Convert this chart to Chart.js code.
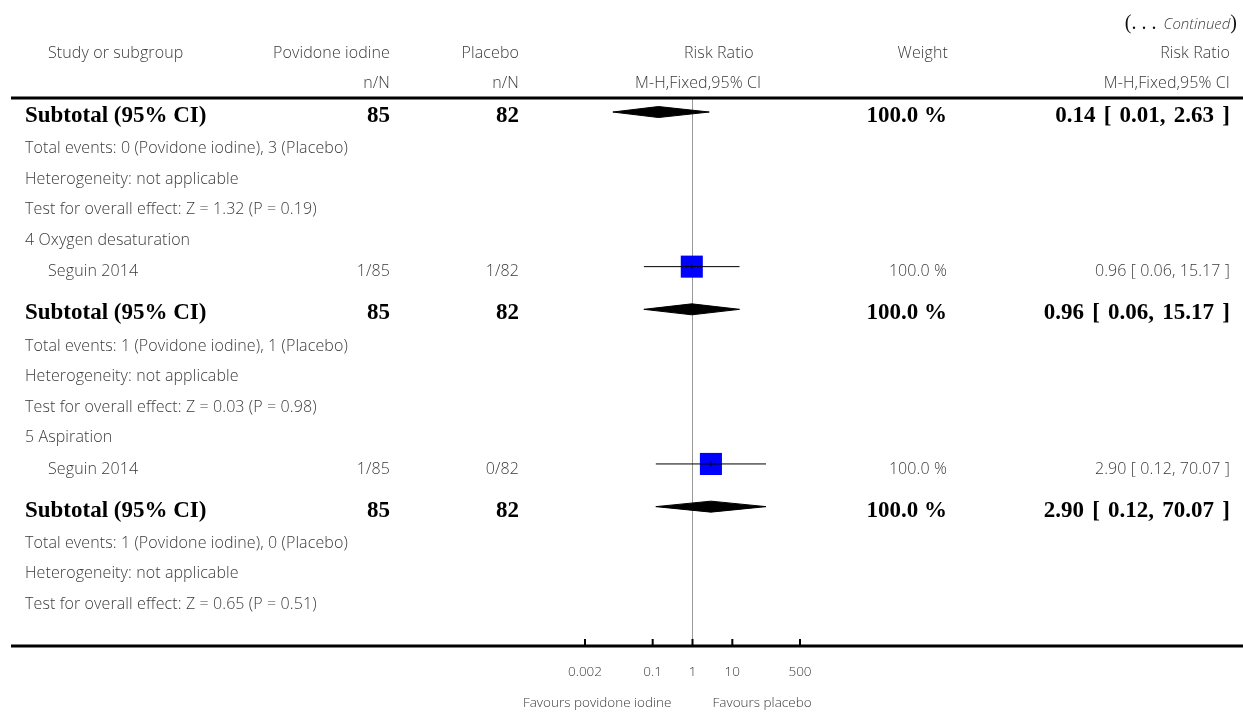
<!DOCTYPE html>
<html>
<head>
<meta charset="utf-8">
<script src="https://cdn.jsdelivr.net/npm/chart.js@4.4.1/dist/chart.umd.min.js"></script>
<style>
  body { margin: 0; background: #fff; }
  canvas { display: block; }
</style>
</head>
<body>
<canvas id="forest" width="1243" height="712"></canvas>
<script>
// values
const subgroups = ['4 Oxygen desaturation', '5 Aspiration'];
const studyNames = ['Seguin 2014', 'Seguin 2014'];
const studyPovidone = ['1/85', '1/85'];
const studyPlacebo = ['1/82', '0/82'];
const studyWeight = ['100.0 %', '100.0 %'];
const studyRR = [0.96, 2.90];
const studyLow = [0.06, 0.12];
const studyHigh = [15.17, 70.07];

const subPovidone = [85, 85, 85];
const subPlacebo = [82, 82, 82];
const subWeight = ['100.0 %', '100.0 %', '100.0 %'];
const subRR = [0.14, 0.96, 2.90];
const subLow = [0.01, 0.06, 0.12];
const subHigh = [2.63, 15.17, 70.07];
const totalEvents = [
    'Total events: 0 (Povidone iodine), 3 (Placebo)',
    'Total events: 1 (Povidone iodine), 1 (Placebo)',
    'Total events: 1 (Povidone iodine), 0 (Placebo)'
];
const heterogeneity = ['Heterogeneity: not applicable', 'Heterogeneity: not applicable', 'Heterogeneity: not applicable'];
const overallEffect = [
    'Test for overall effect: Z = 1.32 (P = 0.19)',
    'Test for overall effect: Z = 0.03 (P = 0.98)',
    'Test for overall effect: Z = 0.65 (P = 0.51)'
];
const xTicks = [0.002, 0.1, 1, 10, 500];
const xTickLabels = ['0.002', '0.1', '1', '10', '500'];

function fmt(v){ return v.toFixed(2) }
function ciText(rr, lo, hi){ return fmt(rr) + ' [ ' + fmt(lo) + ', ' + fmt(hi) + ' ]' }

// build the rows (first block is the tail of a previous subgroup)
let rows = [];
function addSubtotal(i){
    rows.push({type: 'subtotal', i: i});
    rows.push({type: 'note', text: totalEvents[i]});
    rows.push({type: 'note', text: heterogeneity[i]});
    rows.push({type: 'note', text: overallEffect[i]});
}
addSubtotal(0);
for(let g = 0; g < subgroups.length; g++){
    rows.push({type: 'group', text: subgroups[g]});
    rows.push({type: 'study', i: g});
    addSubtotal(g + 1);
}

// row positions in row units (subtotal rows get extra room)
let pos = 0.46;
for(let r = 0; r < rows.length; r++){
    if(r > 0){
        let step = 1;
        if(rows[r].type == 'subtotal') step = 1.4;
        else if(rows[r - 1].type == 'subtotal') step = 1.07;
        pos += step;
    }
    rows[r].y = pos;
}
const yMax = 17.97;

let studyRows = rows.filter(r => r.type == 'study');
let subRows = rows.filter(r => r.type == 'subtotal');

let datasets = [];
datasets.push({
    data: [{x: 1, y: 0}, {x: 1, y: yMax}],
    showLine: true, borderColor: '#999', borderWidth: 1, pointRadius: 0, order: 10
});
datasets.push({
    data: studyRows.map(r => ({x: studyRR[r.i], y: r.y})),
    pointStyle: 'rect', pointRadius: 15.6, backgroundColor: '#0000ff', borderWidth: 0, order: 5
});
datasets.push({
    data: studyRows.map(r => ({x: studyRR[r.i], y: r.y})),
    pointStyle: 'line', rotation: 90, pointRadius: 2.5, borderColor: '#000', borderWidth: 1, order: 1
});
studyRows.forEach(r => {
    datasets.push({
        data: [{x: studyLow[r.i], y: r.y}, {x: studyHigh[r.i], y: r.y}],
        showLine: true, borderColor: '#000', borderWidth: 1, pointRadius: 0, order: 2
    });
});
const dh = 0.18;
subRows.forEach(r => {
    let i = r.i;
    datasets.push({
        data: [
            {x: subLow[i], y: r.y}, {x: subRR[i], y: r.y - dh},
            {x: subHigh[i], y: r.y}, {x: subRR[i], y: r.y + dh},
            {x: subLow[i], y: r.y}
        ],
        showLine: true, fill: 'shape', backgroundColor: '#000', borderColor: '#000',
        borderWidth: 1, pointRadius: 0, tension: 0, order: 4
    });
});

const FONT = '"Open Sans", Lato, sans-serif';
const BOLD = '"Liberation Serif", "DejaVu Serif", serif';
const GREY = '#3a3a3a';

const tablePlugin = {
    id: 'table',
    afterDraw(chart){
        const c = chart.ctx;
        const xs = chart.scales.x;
        const ys = chart.scales.y;
        c.save();
        c.textBaseline = 'middle';

        function txt(s, x, y, align, font, color, spacing, wordSp){
            c.font = font;
            c.fillStyle = color || GREY;
            c.textAlign = align;
            c.letterSpacing = spacing || '0px';
            c.wordSpacing = wordSp || '0px';
            c.fillText(s, x, y);
        }
        const norm = '300 16px ' + FONT;
        const small = '300 13.5px ' + FONT;
        const bold = 'bold 23px ' + BOLD;
        const ls = '0.1px';

        // (... Continued)
        c.textAlign = 'right';
        c.font = '20px ' + BOLD;
        c.fillStyle = '#111';
        let w1 = c.measureText(')').width;
        c.fillText(')', 1237, 24);
        c.font = 'italic 300 15px ' + FONT;
        c.fillStyle = GREY;
        let w2 = c.measureText('Continued').width;
        c.fillText('Continued', 1237 - w1, 25);
        c.font = '20px ' + BOLD;
        c.fillStyle = '#111';
        c.fillText('(. . . ', 1237 - w1 - w2 - 2, 24);

        // headers
        txt('Study or subgroup', 48, 53, 'left', norm, null, ls);
        txt('Povidone iodine', 390, 53, 'right', norm, null, ls);
        txt('Placebo', 519, 53, 'right', norm, null, ls);
        txt('Risk Ratio', 684, 53, 'left', norm, null, ls);
        txt('Weight', 948, 53, 'right', norm, null, ls);
        txt('Risk Ratio', 1230, 53, 'right', norm, null, ls);
        txt('n/N', 390, 83, 'right', norm, null, ls);
        txt('n/N', 519, 83, 'right', norm, null, ls);
        txt('M-H,Fixed,95% CI', 635, 83, 'left', norm, null, ls);
        txt('M-H,Fixed,95% CI', 1230, 83, 'right', norm, null, ls);

        // rows
        rows.forEach(r => {
            let y = ys.getPixelForValue(r.y) + 4;
            if(r.type == 'note' || r.type == 'group'){
                txt(r.text, 25, y, 'left', norm, null, ls);
            }else if(r.type == 'study'){
                let i = r.i;
                txt(studyNames[i], 48, y + 1, 'left', norm, null, ls);
                txt(studyPovidone[i], 390, y + 1, 'right', norm, null, ls);
                txt(studyPlacebo[i], 519, y + 1, 'right', norm, null, ls);
                txt(studyWeight[i], 947, y + 1, 'right', norm, null, ls);
                txt(ciText(studyRR[i], studyLow[i], studyHigh[i]), 1230, y + 1, 'right', norm, null, ls);
            }else if(r.type == 'subtotal'){
                let i = r.i;
                txt('Subtotal (95% CI)', 25, y, 'left', bold, '#000');
                txt(String(subPovidone[i]), 390, y, 'right', bold, '#000');
                txt(String(subPlacebo[i]), 519, y, 'right', bold, '#000');
                txt(subWeight[i], 947, y, 'right', bold, '#000');
                txt(ciText(subRR[i], subLow[i], subHigh[i]), 1230, y, 'right', bold, '#000', '0px', '2.5px');
            }
        });
        c.letterSpacing = '0px';
        c.wordSpacing = '0px';

        // rules
        c.fillStyle = '#000';
        let top = chart.chartArea.top;
        let bottom = chart.chartArea.bottom;
        c.fillRect(11, top - 1.5, 1243 - 11, 3);
        c.fillRect(11, bottom - 1.5, 1243 - 11, 3);

        // axis ticks and labels
        xTicks.forEach((t, k) => {
            let x = xs.getPixelForValue(t);
            c.fillStyle = '#000';
            c.fillRect(x - 1, bottom - 7, 2, 6);
            txt(xTickLabels[k], x, 672, 'center', small);
        });
        let mid = xs.getPixelForValue(1);
        txt('Favours povidone iodine', mid - 21, 703, 'right', small);
        txt('Favours placebo', mid + 20, 703, 'left', small);
        c.restore();
    }
};

new Chart(document.getElementById('forest'), {
    type: 'scatter',
    data: { datasets: datasets },
    options: {
        responsive: false,
        animation: false,
        layout: { padding: { left: 585, right: 443, top: 98, bottom: 66 } },
        scales: {
            x: { type: 'logarithmic', min: 0.002, max: 500, display: false },
            y: { type: 'linear', min: 0, max: yMax, reverse: true, display: false }
        },
        plugins: {
            legend: { display: false },
            tooltip: { enabled: false }
        }
    },
    plugins: [tablePlugin]
});
</script>
</body>
</html>
